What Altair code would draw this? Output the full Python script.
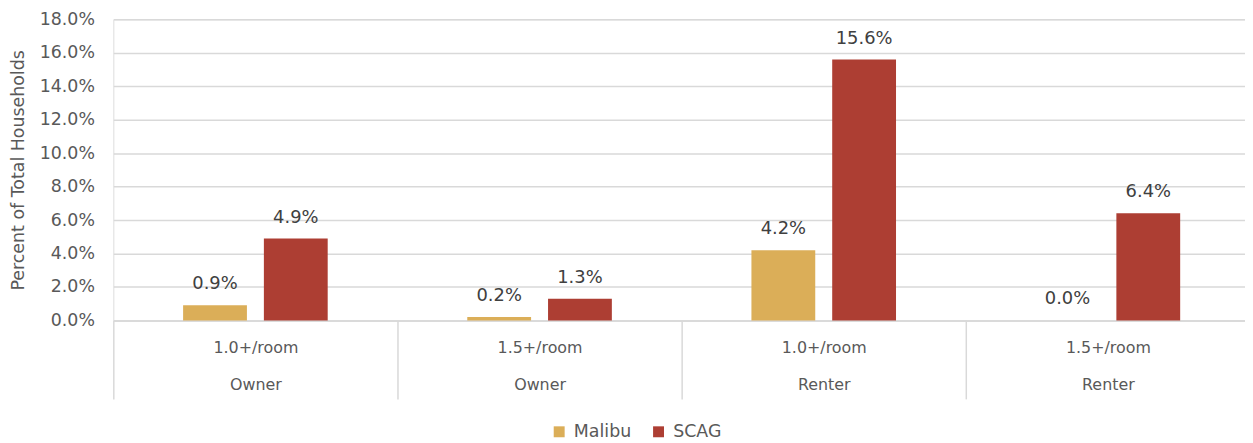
import altair as alt
import pandas as pd

categories = ["1.0+/room|Owner", "1.5+/room|Owner", "1.0+/room|Renter", "1.5+/room|Renter"]
series = ["Malibu", "SCAG"]
malibu = [0.009, 0.002, 0.042, 0.000]
scag = [0.049, 0.013, 0.156, 0.064]
colors = ["#DBAE58", "#AD3E33"]
y_ticks = [0, 0.02, 0.04, 0.06, 0.08, 0.10, 0.12, 0.14, 0.16, 0.18]

rows = []
for i, c in enumerate(categories):
    rows.append({"cat": c, "series": "Malibu", "value": malibu[i]})
    rows.append({"cat": c, "series": "SCAG", "value": scag[i]})
df = pd.DataFrame(rows)

FONT = "DejaVu Sans"
GRID = "#D9D9D9"

x_scale = alt.Scale(paddingInner=0, paddingOuter=0)
x_axis = alt.Axis(
    title=None,
    labelAngle=0,
    labelExpr="split(datum.label, '|')",
    labelLineHeight=38,
    labelBaseline="middle",
    labelPadding=-52,
    labelFontSize=16,
    labelColor="#595959",
    labelFont=FONT,
    labelOverlap=False,
    domainColor=GRID,
    domainWidth=1.5,
    ticks=True,
    tickBand="extent",
    tickSize=79,
    tickColor=GRID,
    tickWidth=1.5,
    grid=False,
)
xoff = alt.XOffset(
    "series:N",
    sort=series,
    scale=alt.Scale(paddingInner=0.21, paddingOuter=0.864),
)
y_axis = alt.Axis(
    values=y_ticks,
    format=".1%",
    title="Percent of Total Households",
    titleFont=FONT,
    titleFontSize=17.5,
    titleFontWeight="normal",
    titleColor="#595959",
    titleAngle=-90,
    titleX=-95,
    titleY=151.5,
    titleAlign="center",
    titleBaseline="middle",
    labelFont=FONT,
    labelFontSize=17.5,
    labelColor="#595959",
    labelPadding=19,
    labelOverlap=False,
    labelFlush=False,
    domain=False,
    ticks=False,
    grid=True,
    gridColor=GRID,
    gridWidth=1.5,
)
y_scale = alt.Scale(domain=[0, 0.18], nice=False)

bars = alt.Chart(df).mark_bar().encode(
    x=alt.X("cat:N", sort=categories, scale=x_scale, axis=x_axis),
    xOffset=xoff,
    y=alt.Y("value:Q", scale=y_scale, axis=y_axis),
    color=alt.Color(
        "series:N",
        sort=series,
        scale=alt.Scale(domain=series, range=colors),
        legend=alt.Legend(
            title=None,
            orient="none",
            legendX=440,
            legendY=406,
            direction="horizontal",
            symbolType="square",
            symbolSize=121,
            symbolStrokeWidth=0,
            labelFont=FONT,
            labelFontSize=17.5,
            labelColor="#595959",
            labelOffset=6,
            columnPadding=18,
            padding=0,
        ),
    ),
)

labels = alt.Chart(df).mark_text(
    dy=-16, baseline="alphabetic", font=FONT, fontSize=18, color="#404040"
).encode(
    x=alt.X("cat:N", sort=categories, scale=x_scale, axis=x_axis),
    xOffset=xoff,
    y=alt.Y("value:Q", scale=y_scale, axis=y_axis),
    text=alt.Text("value:Q", format=".1%"),
)

chart = (
    alt.layer(bars, labels)
    .properties(
        width=1144,
        height=303,
        autosize=alt.AutoSizeParams(type="none"),
        padding={"left": 106, "top": 10, "right": -5, "bottom": 122},
    )
    .configure_view(strokeWidth=0, stroke="transparent")
    .configure(background="white")
)

chart.save("out.html", embed_options={"renderer": "svg", "actions": False})
